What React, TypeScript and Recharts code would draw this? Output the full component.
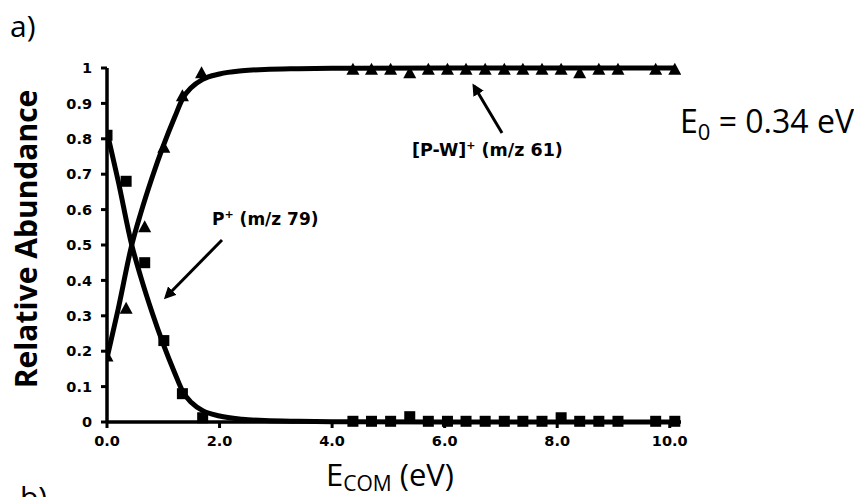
import React from "react";
import {
  ComposedChart,
  Line,
  Scatter,
  XAxis,
  YAxis,
} from "recharts";

// fitted curves
const fitX = [0, 0.2, 0.44, 0.6, 0.8, 1.0, 1.2, 1.35, 1.5, 1.7, 2.0, 2.4, 2.8, 3.4, 4.0, 6.0, 8.0, 10.1];
const fitParent = [0.82, 0.68, 0.5, 0.41, 0.31, 0.22, 0.14, 0.085, 0.055, 0.032, 0.017, 0.008, 0.004, 0.002, 0.001, 0, 0, 0];
const fitFragment = [0.18, 0.32, 0.5, 0.59, 0.69, 0.78, 0.86, 0.915, 0.945, 0.968, 0.983, 0.992, 0.996, 0.998, 0.999, 1, 1, 1];

// measured points: P+ (m/z 79) squares
const parentX = [0, 0.34, 0.67, 1.01, 1.34, 1.7, 4.37, 4.7, 5.04, 5.38, 5.71, 6.05, 6.38, 6.72, 7.06, 7.39, 7.73, 8.07, 8.4, 8.74, 9.08, 9.75, 10.09];
const parentY = [0.81, 0.68, 0.45, 0.23, 0.08, 0.012, 0.002, 0.002, 0.002, 0.015, 0.002, 0.002, 0.002, 0.002, 0.002, 0.002, 0.002, 0.012, 0.002, 0.002, 0.002, 0.002, 0.002];

// measured points: [P-W]+ (m/z 61) triangles
const fragX = [0, 0.34, 0.67, 1.01, 1.34, 1.68, 4.37, 4.7, 5.04, 5.38, 5.71, 6.05, 6.38, 6.72, 7.06, 7.39, 7.73, 8.07, 8.4, 8.74, 9.08, 9.75, 10.09];
const fragY = [0.185, 0.32, 0.55, 0.775, 0.92, 0.985, 0.995, 0.995, 0.995, 0.985, 0.995, 0.995, 0.995, 0.995, 0.995, 0.995, 0.995, 0.995, 0.985, 0.995, 0.995, 0.995, 0.995];

const xTicks = [0, 2, 4, 6, 8, 10];
const yTicks = [0, 0.1, 0.2, 0.3, 0.4, 0.5, 0.6, 0.7, 0.8, 0.9, 1];

const fitData = fitX.map((x, i) => ({ x, p: fitParent[i], f: fitFragment[i] }));
const parentData = parentX.map((x, i) => ({ x, y: parentY[i] }));
const fragData = fragX.map((x, i) => ({ x, y: fragY[i] }));

const Square = (props: any) => (
  <rect x={props.cx - 5.5} y={props.cy - 5.5} width={11} height={11} fill="#000" />
);

const Triangle = (props: any) => {
  const { cx, cy } = props;
  return <polygon points={`${cx},${cy - 7} ${cx + 6.5},${cy + 5} ${cx - 6.5},${cy + 5}`} fill="#000" />;
};

const tickStyle = { fontFamily: "DejaVu Sans", fontWeight: "bold", fontSize: 14.5, fill: "#000" };

const App = () => {
  return (
    <div style={{ position: "absolute", left: 0, top: 0, width: 854, height: 497, background: "#fff" }}>
      <ComposedChart
        width={854}
        height={497}
        margin={{ top: 68, right: 173, bottom: 45, left: 47 }}
      >
        <XAxis
          type="number"
          dataKey="x"
          domain={[0, 10.2]}
          ticks={xTicks}
          tickFormatter={(v: number) => v.toFixed(1)}
          tick={tickStyle}
          axisLine={{ stroke: "#000", strokeWidth: 3.5 }}
          tickLine={{ stroke: "#000", strokeWidth: 3 }}
          tickSize={6}
          tickMargin={8}
          height={30}
          allowDataOverflow
        />
        <YAxis
          type="number"
          dataKey="y"
          domain={[0, 1]}
          ticks={yTicks}
          tickFormatter={(v: number) => String(Math.round(v * 10) / 10)}
          tick={tickStyle}
          axisLine={{ stroke: "#000", strokeWidth: 3.5 }}
          tickLine={{ stroke: "#000", strokeWidth: 3 }}
          tickSize={6}
          tickMargin={9}
          width={60}
        />
        <Scatter data={parentData} shape={<Square />} isAnimationActive={false} />
        <Scatter data={fragData} shape={<Triangle />} isAnimationActive={false} />
        <Line
          data={fitData}
          dataKey="p"
          type="monotone"
          stroke="#000"
          strokeWidth={5}
          dot={false}
          isAnimationActive={false}
        />
        <Line
          data={fitData}
          dataKey="f"
          type="monotone"
          stroke="#000"
          strokeWidth={5}
          dot={false}
          isAnimationActive={false}
        />
      </ComposedChart>

      {/* annotations and titles */}
      <svg
        width={854}
        height={497}
        style={{ position: "absolute", left: 0, top: 0, pointerEvents: "none" }}
      >
        <defs>
          <marker id="head" markerWidth="4" markerHeight="4" refX="3" refY="2" orient="auto" markerUnits="strokeWidth">
            <path d="M0,0 L4,2 L0,4 Z" fill="#000" />
          </marker>
        </defs>
        <text x={10} y={37} fontFamily="Open Sans" fontSize={30} fill="#000">a)</text>
        <text x={20} y={508} fontFamily="Open Sans" fontSize={30} fill="#000">b)</text>
        <text
          transform="translate(37,239) rotate(-90)"
          textAnchor="middle"
          fontFamily="Open Sans"
          fontWeight="bold"
          fontSize={30}
          fill="#000"
        >
          Relative Abundance
        </text>
        <text x={326} y={486} fontFamily="Open Sans" fontSize={31} fill="#000">
          E<tspan fontSize={21} dy={5}>COM</tspan>
          <tspan dy={-5}> (eV)</tspan>
        </text>
        <text x={680} y={133} fontFamily="Open Sans" fontSize={32} fill="#000">
          E<tspan fontSize={22} dy={7}>0</tspan>
          <tspan dy={-7}> = 0.34 eV</tspan>
        </text>
        <text x={212} y={225} fontFamily="DejaVu Sans" fontWeight="bold" fontSize={17} fill="#000">
          P<tspan fontSize={11} dy={-7}>+</tspan>
          <tspan dy={7}> (m/z 79)</tspan>
        </text>
        <text x={412} y={156} fontFamily="DejaVu Sans" fontWeight="bold" fontSize={17.5} fill="#000">
          [P-W]<tspan fontSize={11} dy={-7}>+</tspan>
          <tspan dy={7}> (m/z 61)</tspan>
        </text>
        <line x1={222} y1={240} x2={166} y2={297} stroke="#000" strokeWidth={3} markerEnd="url(#head)" />
        <line x1={502} y1={133} x2={474} y2={86} stroke="#000" strokeWidth={3} markerEnd="url(#head)" />
      </svg>
    </div>
  );
};

export default App;
